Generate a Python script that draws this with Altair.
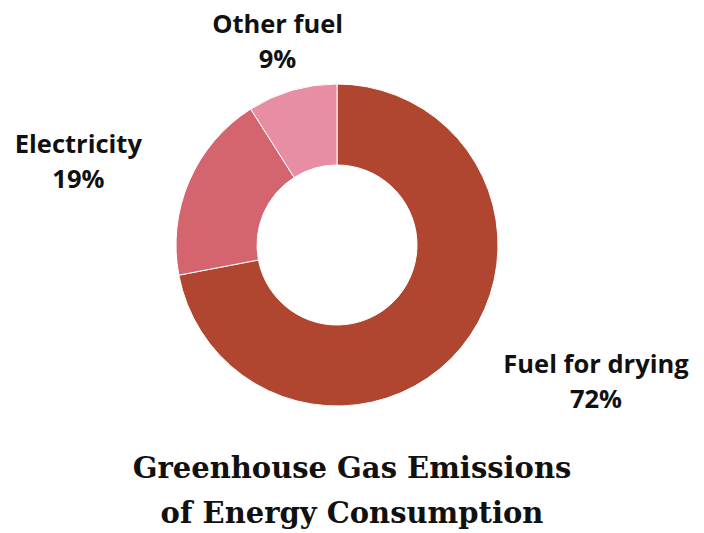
import altair as alt
import pandas as pd

categories = ["Fuel for drying", "Electricity", "Other fuel"]
shares = [72, 19, 9]
colors = ["#b04530", "#d4646e", "#e78da4"]
title_lines = ["Greenhouse Gas Emissions", "of Energy Consumption"]

df = pd.DataFrame({
    "category": categories,
    "share": shares,
    "order": list(range(len(categories))),
})
df["label"] = df["category"] + "\n" + df["share"].astype(str) + "%"

theta_scale = alt.Scale(domain=[0, 100])

base = alt.Chart(df).transform_window(
    end="sum(share)", sort=[alt.SortField("order")]
).transform_calculate(
    start="datum.end - datum.share",
    mid="datum.end - datum.share / 2",
).encode(
    x=alt.value(329),
    y=alt.value(235),
)

arcs = base.mark_arc(outerRadius=161, innerRadius=80, stroke="white", strokeWidth=1).encode(
    theta=alt.Theta("start:Q", scale=theta_scale),
    theta2="end:Q",
    color=alt.Color("category:N", scale=alt.Scale(domain=categories, range=colors), legend=None),
)

def label_layer(cat, radius, dx, dy):
    return base.transform_filter(alt.datum.category == cat).mark_text(
        radius=radius, dx=dx, dy=dy, font="Open Sans", fontWeight="bold", fontSize=25.5,
        lineBreak="\n", lineHeight=35, align="center", baseline="middle", color="#111111"
    ).encode(
        theta=alt.Theta("mid:Q", scale=theta_scale),
        text="label:N",
    )

labels = (
    label_layer("Fuel for drying", 292, 34, -66)
    + label_layer("Electricity", 272, -9, 8)
    + label_layer("Other fuel", 213, 0, -15)
)

chart = (arcs + labels).properties(
    width=688,
    height=428,
    padding={"top": 2, "left": 0, "right": 0, "bottom": 0},
    title=alt.TitleParams(
        text=title_lines, orient="bottom", anchor="middle", font="DejaVu Serif",
        fontWeight="bold", fontSize=29, lineHeight=45, color="#111111", offset=17,
    ),
).configure_view(strokeWidth=0)

chart.save("out.html", embed_options={"renderer": "svg", "actions": False})
